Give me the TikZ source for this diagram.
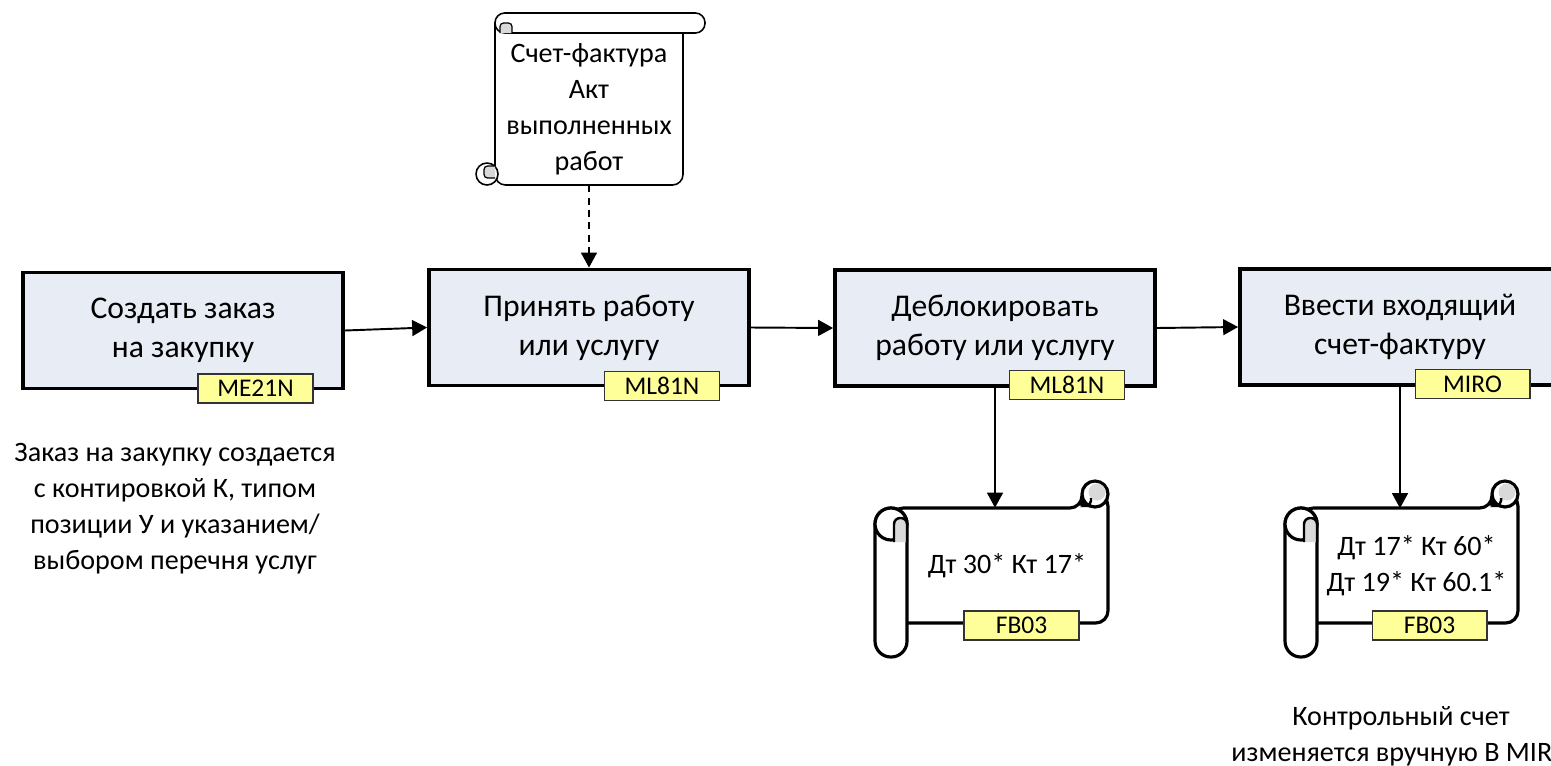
\documentclass[tikz,border=0pt]{standalone}
\usepackage{fontspec}
\setmainfont{Carlito}
\usetikzlibrary{arrows.meta}
\definecolor{boxfill}{HTML}{E8ECF4}
\definecolor{tagfill}{HTML}{FFFF99}
\definecolor{curlgray}{HTML}{D9D9D9}
\tikzset{
	procbox/.style={draw, line width=2.2pt, fill=boxfill, minimum width=6.4cm, minimum height=2.32cm, inner sep=0pt, align=center, font=\fontsize{18}{22}\selectfont},
	tcode/.style={draw=black!80, line width=0.6pt, fill=tagfill, minimum width=2.3cm, minimum height=0.58cm, inner sep=0pt, font=\fontsize{14.5}{16}\selectfont},
	flow/.style={line width=1.1pt, -{Triangle[length=8.5pt, width=9pt]}},
	note/.style={inner sep=0pt, align=center, font=\fontsize{16}{20.5}\selectfont},
}
\def\ledger(#1,#2){
	\begin{scope}[shift={(#1,#2)}, line width=1.8pt]
		\draw[fill=white, rounded corners=7pt] (16,0) -- (207,0) -- (207,-14) -- (233,-14) -- (233,115) -- (16,115) -- cycle;
		\draw[fill=white] (220,-14) circle (0.26cm);
		\fill[curlgray] (222,-16) circle (0.17cm);
		\draw[line width=1.4pt, rounded corners=3pt] (207,-14) -- (207,-2) -- (216,-2) -- (216,-10);
		\draw[fill=white, rounded corners=9pt] (0,0) rectangle (32,149);
		\draw[fill=white] (16,16) circle (0.32cm);
		\draw[fill=curlgray, line width=1.4pt, rounded corners=3.5pt] (19,34) -- (19,10) -- (32,10) -- (32,34);
	\end{scope}
}

\begin{document}
\begin{tikzpicture}[x=0.02cm, y=-0.02cm]
	\useasboundingbox (0,0) rectangle (1551,765);
	\clip (0,0) rectangle (1551,765);

	%%%%% documents %%%%%
	\draw[fill=white, line width=0.9pt, rounded corners=6pt] (495,23) -- (495,185) -- (683,185) -- (683,23);
	\draw[fill=white, line width=0.9pt] (487,174) circle (0.22cm);
	\draw[fill=curlgray, line width=0.7pt, rounded corners=2pt] (495,166) -- (484,166) -- (484,178) -- (495,178);
	\draw[fill=white, line width=0.9pt, rounded corners=5.5pt] (495,13) rectangle (705,33);
	\draw[fill=curlgray, line width=0.7pt, rounded corners=2pt] (500,33) -- (500,23) -- (512,23) -- (512,33);
	\node[note, minimum width=3.76cm, minimum height=3.04cm] (docs) at (589,109) {Счет-фактура\\Акт\\выполненных\\работ};

	%%%%% steps %%%%%
	\node[procbox] (create) at (183,330.5) {Создать заказ\\на закупку};
	\node[procbox] (accept) at (589,327.5) {Принять работу\\или услугу};
	\node[procbox] (unblock) at (995,328) {Деблокировать\\работу или услугу};
	\node[procbox] (enter) at (1400,327) {Ввести входящий\\счет-фактуру};

	\draw[flow] (create.east) -- (accept.west);
	\draw[flow] (accept.east) -- (unblock.west);
	\draw[flow] (unblock.east) -- (enter.west);
	\draw[flow, dashed, dash pattern=on 4pt off 3pt] (docs.south) -- (accept.north);

	%%%%% postings %%%%%
	\ledger(875,508)
	\node[note, minimum width=4.02cm, minimum height=2.3cm] (ledgerA) at (1007,565.5) {Дт 30* Кт 17*};
	\ledger(1285,508)
	\node[note, minimum width=4.06cm, minimum height=2.3cm] (ledgerB) at (1416.5,566) {Дт 17* Кт 60*\\Дт 19* Кт 60.1*};

	\draw[flow] (unblock.south) -- (unblock.south |- ledgerA.north);
	\draw[flow] (enter.south) -- (enter.south |- ledgerB.north);

	%%%%% transaction codes %%%%%
	\node[tcode] (codeCreate) at (255.5,388.5) {ME21N};
	\node[tcode] (codeAccept) at (662,386) {ML81N};
	\node[tcode] (codeUnblock) at (1067,385) {ML81N};
	\node[tcode] (codeEnter) at (1472.5,384) {MIRO};
	\node[tcode] (codeA) at (1021.5,625.5) {FB03};
	\node[tcode] (codeB) at (1429.5,625.5) {FB03};

	%%%%% notes %%%%%
	\node[note] (poNote) at (175,509) {Заказ на закупку создается\\с контировкой К, типом\\позиции У и указанием/\\выбором перечня услуг};
	\node[note] (accNote) at (1401,736) {Контрольный счет\\изменяется вручную В MIRO};
\end{tikzpicture}
\end{document}
